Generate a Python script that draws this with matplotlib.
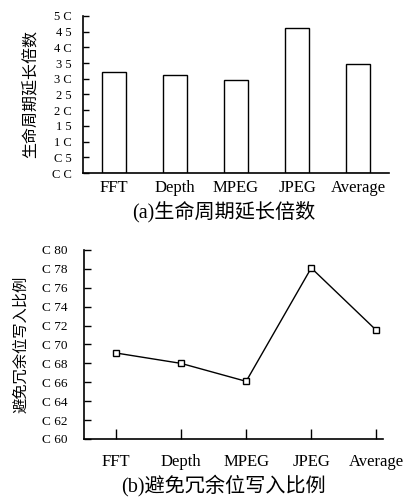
import matplotlib
matplotlib.use("Agg")
import matplotlib.pyplot as plt

plt.rcParams['font.family'] = ['Liberation Serif', 'Noto Sans CJK SC', 'DejaVu Sans']

categories = ['FFT', 'Depth', 'MPEG', 'JPEG', 'Average']
lifetime_gain = [3.23, 3.12, 2.96, 4.62, 3.47]
avoid_ratio = [0.691, 0.680, 0.661, 0.781, 0.715]

top_ticks = [0, 0.5, 1, 1.5, 2, 2.5, 3, 3.5, 4, 4.5, 5]
top_ticklabels = ['C C', 'C 5', '1 C', '1 5', '2 C', '2 5', '3 C', '3 5', '4 C', '4 5', '5 C']
bot_ticks = [0.60, 0.62, 0.64, 0.66, 0.68, 0.70, 0.72, 0.74, 0.76, 0.78, 0.80]
bot_ticklabels = ['C 60', 'C 62', 'C 64', 'C 66', 'C 68', 'C 70', 'C 72', 'C 74', 'C 76', 'C 78', 'C 80']

cjk = ['Noto Sans CJK SC', 'DejaVu Sans']
mixed = ['Liberation Serif', 'Noto Sans CJK SC']

fig = plt.figure(figsize=(4.06, 4.98), dpi=100)

# (a) 柱状图
ax1 = fig.add_axes([0.2044, 0.6526, 0.7536, 0.3154])
x = list(range(len(categories)))
ax1.bar(x, lifetime_gain, width=0.39, facecolor='white', edgecolor='black', linewidth=1.0)
ax1.set_xlim(-0.5, 4.5)
ax1.set_ylim(0, 5)
ax1.spines['top'].set_visible(False)
ax1.spines['right'].set_visible(False)
ax1.spines['left'].set_linewidth(1.2)
ax1.spines['bottom'].set_linewidth(1.2)
ax1.set_yticks(top_ticks)
ax1.set_yticklabels(top_ticklabels, fontsize=9)
ax1.tick_params(axis='y', direction='in', length=4, width=1, pad=8)
ax1.set_xticks(x)
ax1.set_xticklabels(categories, fontsize=12)
ax1.tick_params(axis='x', length=0, pad=5)
ax1.set_ylabel('生命周期延长倍数', family=cjk, fontsize=11.5, fontweight='medium', labelpad=9)
fig.text(0.55, 0.574, '(a)生命周期延长倍数', family=mixed,
         fontsize=14.5, fontweight='medium', ha='center', va='center')

# (b) 折线图
ax2 = fig.add_axes([0.207, 0.1185, 0.736, 0.3795])
ax2.plot(x, avoid_ratio, color='black', linewidth=1.0, marker='s', markersize=5,
         markerfacecolor='white', markeredgecolor='black', markeredgewidth=1.0)
ax2.set_xlim(-0.49, 4.1)
ax2.set_ylim(0.6, 0.8)
ax2.spines['top'].set_visible(False)
ax2.spines['right'].set_visible(False)
ax2.spines['left'].set_linewidth(1.2)
ax2.spines['bottom'].set_linewidth(1.2)
ax2.set_yticks(bot_ticks)
ax2.set_yticklabels(bot_ticklabels, fontsize=9.5)
ax2.tick_params(axis='y', direction='in', length=5, width=1, pad=12)
ax2.set_xticks(x)
ax2.set_xticklabels(categories, fontsize=12)
ax2.tick_params(axis='x', direction='in', length=7, width=1, pad=11)
ax2.set_ylabel('避免冗余位写入比例', family=cjk, fontsize=11, fontweight='light', labelpad=9)
fig.text(0.55, 0.026, '(b)避免冗余位写入比例', family=mixed,
         fontsize=14.5, fontweight='medium', ha='center', va='center')

fig.savefig('out.png', dpi=100)
